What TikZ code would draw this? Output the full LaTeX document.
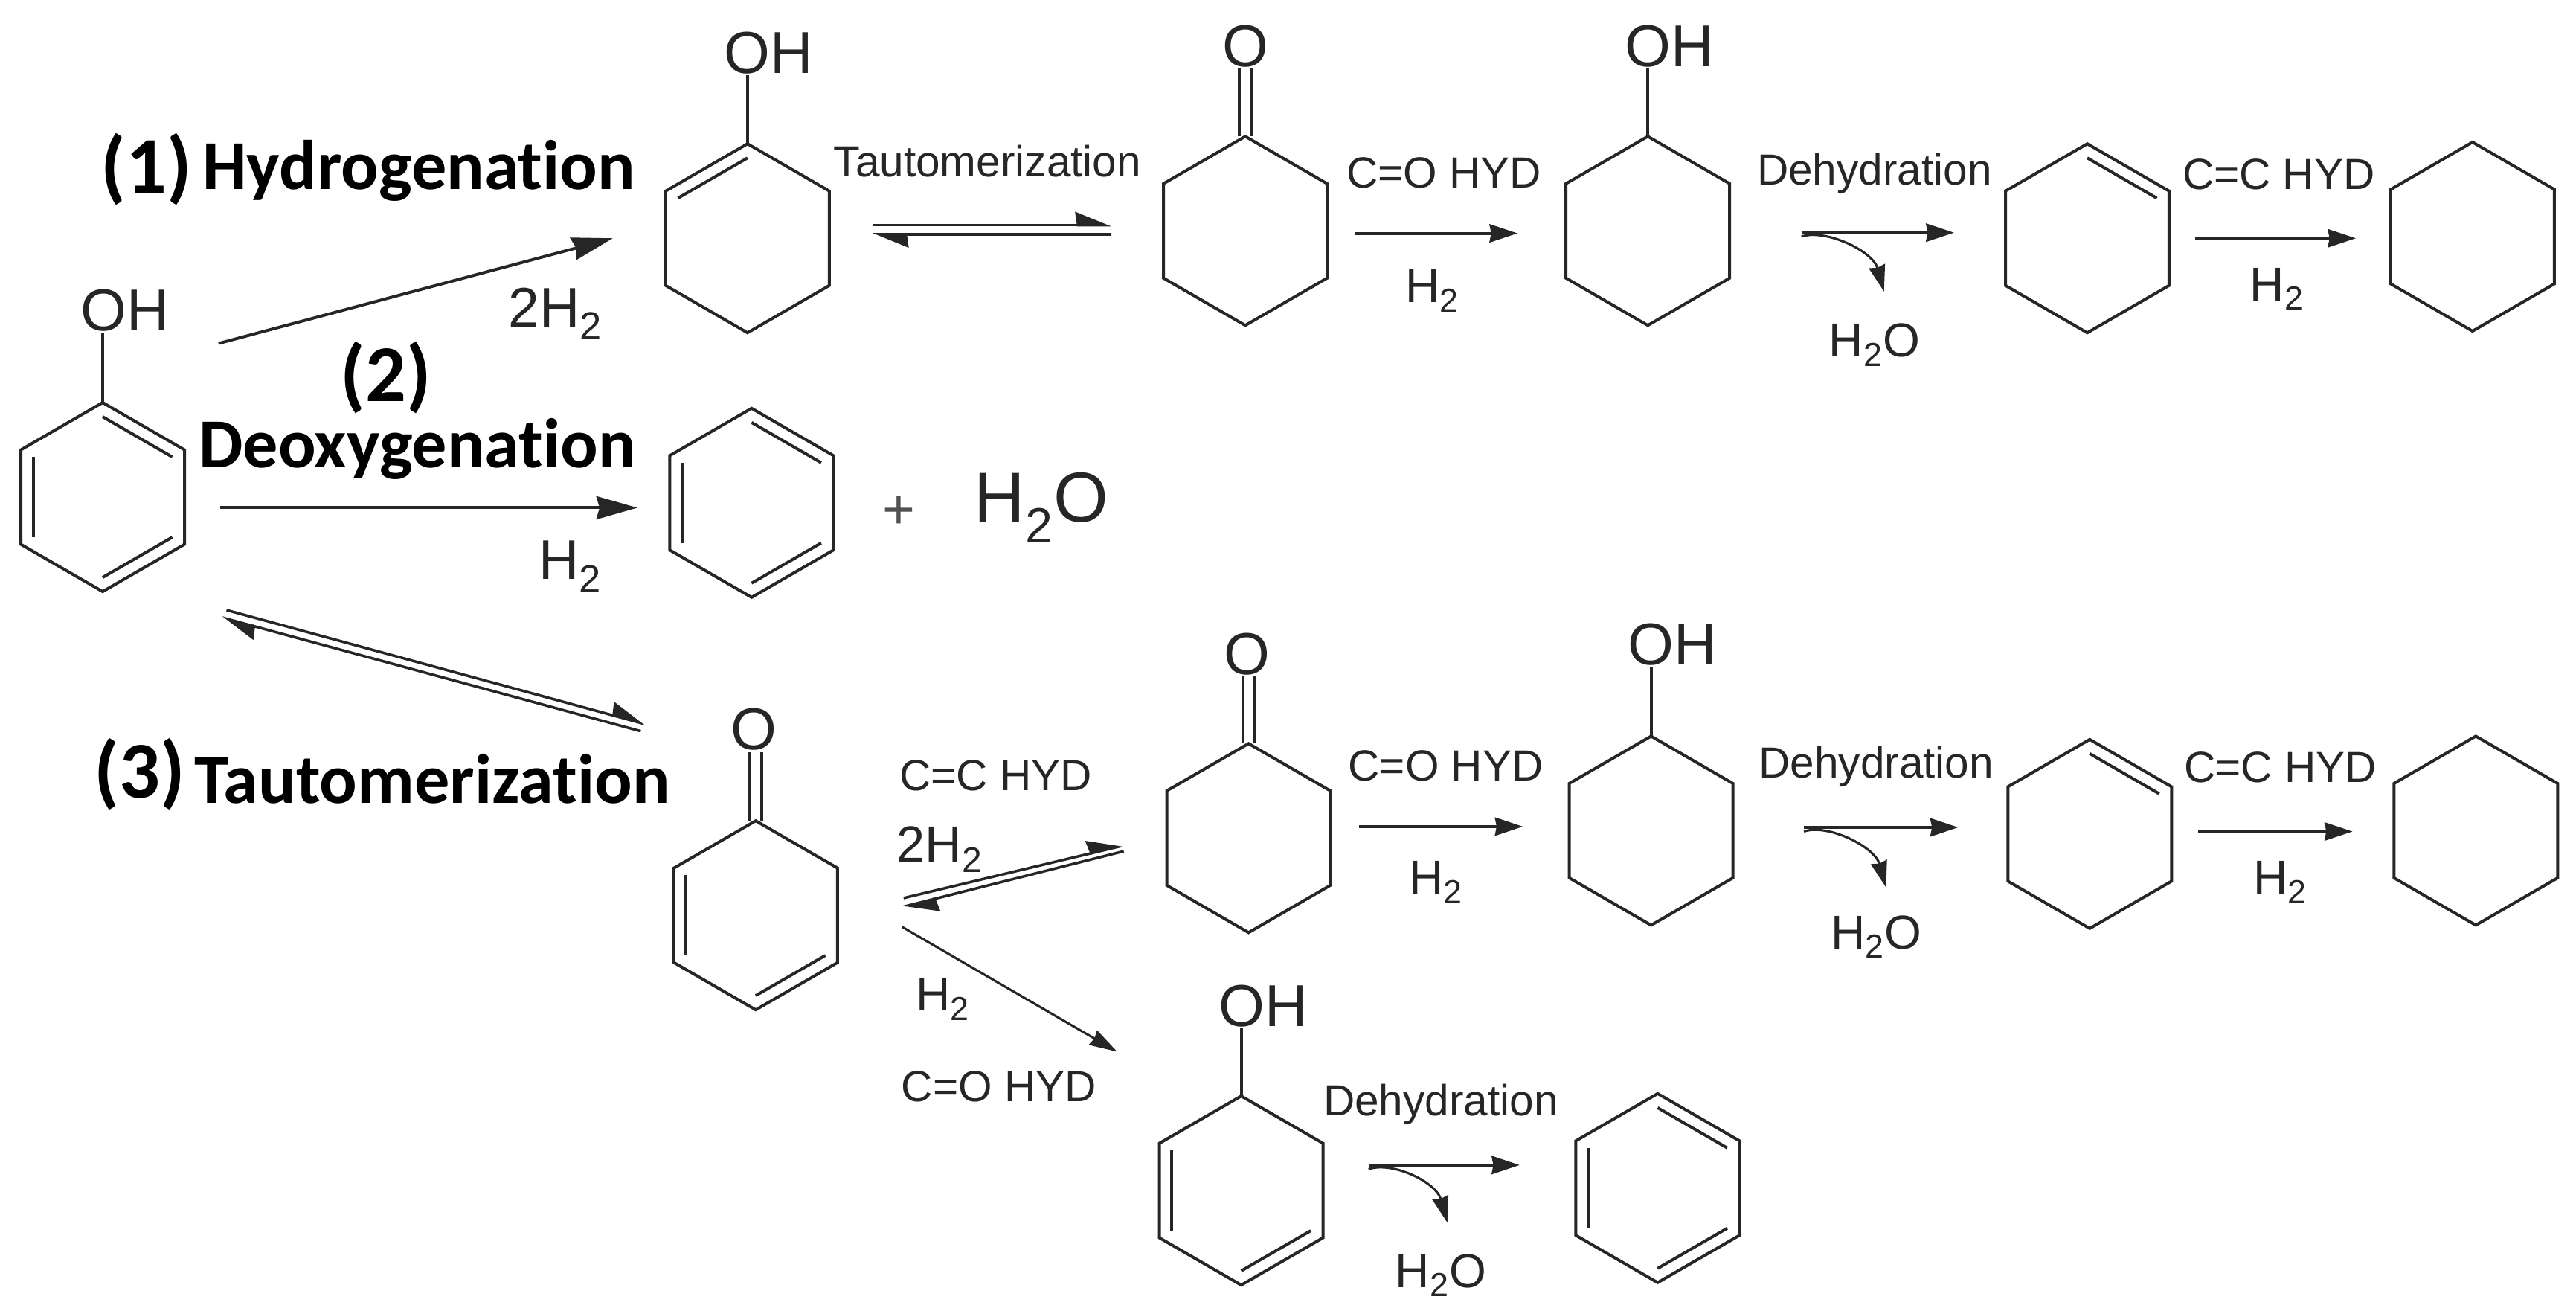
\documentclass[tikz,border=0pt]{standalone}
\usepackage{fontspec}
\setmainfont{Liberation Sans}
\newfontfamily\tagfont[Ligatures=NoCommon]{Carlito}
\usetikzlibrary{shapes.geometric,arrows.meta,calc}
\definecolor{ink}{gray}{0.15}
% inner line of a double bond, ring name and its two corners
\newcommand{\dbl}[3]{\draw ($(#1.center)!.85!(#1.corner #2)$) -- ($(#1.center)!.85!(#1.corner #3)$);}
% single and double bond from the top corner up to a label
\newcommand{\upbond}[2]{\draw (#1.corner 1) -- (#1.corner 1 |- #2.south);}
\newcommand{\upcarbonyl}[2]{
  \draw ([xshift=-3.5pt]#1.corner 1) -- ([xshift=-3.5pt]#1.corner 1 |- #2.south);
  \draw ([xshift=3.5pt]#1.corner 1) -- ([xshift=3.5pt]#1.corner 1 |- #2.south);}
\begin{document}
\begin{tikzpicture}[x=1pt,y=-1pt,line width=1.8pt,draw=ink,color=ink,
  ring/.style={regular polygon,regular polygon sides=6,shape border rotate=30,draw,
    minimum size=115pt,inner sep=0pt,outer sep=0pt},
  atom/.style={font=\fontsize{36}{40}\selectfont,inner sep=0pt},
  txt/.style={font=\fontsize{26.5}{30}\selectfont,inner sep=0pt},
  gas/.style={font=\fontsize{29}{32}\selectfont,inner sep=0pt},
  sum/.style={font=\fontsize{34}{38}\selectfont,inner sep=0pt},
  sumlow/.style={font=\fontsize{31}{36}\selectfont,inner sep=0pt},
  big/.style={font=\fontsize{43}{48}\selectfont,inner sep=0pt},
  tag/.style={font=\tagfont\bfseries\fontsize{42.7}{46}\selectfont,inner sep=0pt,text=black},
  num/.style={font=\tagfont\bfseries\fontsize{49}{52}\selectfont,inner sep=0pt,text=black},
  rxn/.style={-{Stealth[length=17pt,width=11pt,inset=1pt]}},
  rxnbig/.style={-{Stealth[length=25pt,width=14pt,inset=2pt]}},
  rxnthin/.style={line width=1.4pt,-{Stealth[length=17pt,width=10pt,inset=1pt]}},
  upper/.style={line width=1.6pt,-{Stealth[harpoon,length=20pt,width=16pt,inset=1pt]}},
  lower/.style={line width=1.6pt,-{Stealth[harpoon,length=20pt,width=16pt,inset=1pt]}},
  loss/.style={line width=1.4pt,-{Stealth[length=16pt,width=10pt,inset=1pt]}}]
\useasboundingbox (0,0) rectangle (1568,799.6);

% rings
\node [ring] (r0) at (62.5,302.5) {};
\node [ring] (r1) at (455,145) {};
\node [ring] (r2) at (758,140.5) {};
\node [ring] (r3) at (1003,140.5) {};
\node [ring] (r4) at (1270.5,145) {};
\node [ring] (r5) at (1505,144) {};
\node [ring] (r6) at (457.5,306) {};
\node [ring] (r7) at (460,557) {};
\node [ring] (r8) at (760,510) {};
\node [ring] (r9) at (1005,505.5) {};
\node [ring] (r10) at (1272,507.5) {};
\node [ring] (r11) at (1507,505.5) {};
\node [ring] (r12) at (755.5,724.5) {};
\node [ring] (r13) at (1009,723) {};

\dbl{r0}{1}{6} \dbl{r0}{2}{3} \dbl{r0}{4}{5}
\dbl{r1}{1}{2}
\dbl{r4}{1}{6}
\dbl{r6}{1}{6} \dbl{r6}{2}{3} \dbl{r6}{4}{5}
\dbl{r7}{2}{3} \dbl{r7}{4}{5}
\dbl{r10}{1}{6}
\dbl{r12}{2}{3} \dbl{r12}{4}{5}
\dbl{r13}{1}{6} \dbl{r13}{2}{3} \dbl{r13}{4}{5}

% atoms on the rings
\node [atom] (oh0) at (76,189) {OH};
\node [atom] (oh1) at (468,32) {OH};
\node [atom] (o2) at (758,28) {O};
\node [atom] (oh3) at (1016,28) {OH};
\node [atom] (o7) at (459,444) {O};
\node [atom] (o8) at (759,398) {O};
\node [atom] (oh9) at (1018,392) {OH};
\node [atom] (oh12) at (769,612) {OH};
\upbond{r0}{oh0} \upbond{r1}{oh1} \upbond{r3}{oh3} \upbond{r9}{oh9} \upbond{r12}{oh12}
\upcarbonyl{r2}{o2} \upcarbonyl{r7}{o7} \upcarbonyl{r8}{o8}

% titles
\node [num] (n1) at (89,103) {(1)};
\node [tag] (t1) at (255,104) {Hydrogenation};
\node [num] (n2) at (235,230) {(2)};
\node [tag] (t2) at (254,273) {Deoxygenation};
\node [num] (n3) at (85,471) {(3)};
\node [tag] (t3) at (263,474) {Tautomerization};

% top row
\draw [rxnbig] ($(r0.east)+(20.7,-93.5)$) -- ($(r1.west)+(-32.2,0)$);
\node [sum] (h1) at (338,191) {2H\textsubscript{2}};
\draw [upper] ($(r1.east)+(26.2,-8)$) -- ($(r2.west)+(-31.7,-3.5)$);
\draw [lower] ($(r2.west)+(-31.7,2.1)$) -- ($(r1.east)+(26.2,-2.4)$);
\node [txt] (a1) at (601,98) {Tautomerization};
\draw [rxn] ($(r2.east)+(17,1.5)$) -- ($(r3.west)+(-29.5,1.5)$);
\node [txt] (a2) at (879,105) {C=O HYD};
\node [gas] (h2) at (872,177) {H\textsubscript{2}};
\draw [rxn] ($(r3.east)+(44.2,1.1)$) -- ($(r4.west)+(-31.3,-3.4)$);
\draw [loss] ($(r3.east)+(43.7,3.5)$) .. controls +(14,-5) and +(-7,-25) .. ($(r4.west)+(-73.9,32.4)$);
\node [txt] (a3) at (1141,105.5) {Dehydration};
\node [gas] (h3) at (1141,210) {H\textsubscript{2}O};
\draw [rxn] ($(r4.east)+(15.7,0)$) -- ($(r5.west)+(-21.2,1)$);
\node [txt] (a4) at (1387,106) {C=C HYD};
\node [gas] (h4) at (1386,176) {H\textsubscript{2}};

% middle row
\draw [rxnbig] ($(r0.east)+(21.7,6.5)$) -- ($(r6.west)+(-19.7,3)$);
\node [sum] (h5) at (347,345) {H\textsubscript{2}};
\node [atom,font=\fontsize{34}{38}\selectfont,text=ink!80] (plus) at (547,312) {+};
\node [big] (w1) at (634,309) {H\textsubscript{2}O};

% tautomerization to the dienone
\draw [upper] ($(r0.corner 5)+(25.6,40)$) -- ($(r7.corner 2)+(-17.2,-87.5)$);
\draw [lower] ($(r7.corner 2)+(-20.2,-83.3)$) -- ($(r0.corner 5)+(22.7,44.5)$);

% bottom row
\draw [upper] ($(r7.east)+(40.2,-10.5)$) -- ($(r8.west)+(-26.2,4.5)$);
\draw [lower] ($(r8.west)+(-26.2,8)$) -- ($(r7.east)+(39.2,-5)$);
\node [txt] (a5) at (606,472) {C=C HYD};
\node [sumlow] (h6) at (572,517) {2H\textsubscript{2}};
\draw [rxnthin] ($(r7.east)+(39.2,7)$) -- ($(r12.corner 2)+(-25.7,-55.75)$);
\node [gas] (h7) at (574,608) {H\textsubscript{2}};
\node [txt] (a6) at (608,661) {C=O HYD};
\draw [rxn] ($(r8.east)+(17.2,-7)$) -- ($(r9.west)+(-28.2,-2.5)$);
\node [txt] (a7) at (880,466) {C=O HYD};
\node [gas] (h8) at (874,537) {H\textsubscript{2}};
\draw [rxn] ($(r9.east)+(43.2,-2)$) -- ($(r10.west)+(-30.2,-4)$);
\draw [loss] ($(r9.east)+(43.2,.5)$) .. controls +(14,-5) and +(-7,-25) .. ($(r10.west)+(-74.2,32.5)$);
\node [txt] (a8) at (1142,466.5) {Dehydration};
\node [gas] (h9) at (1142,570) {H\textsubscript{2}O};
\draw [rxn] ($(r10.east)+(16.2,-1.5)$) -- ($(r11.west)+(-25.2,.5)$);
\node [txt] (a9) at (1388,467) {C=C HYD};
\node [gas] (h10) at (1388,537) {H\textsubscript{2}};
\draw [rxn] ($(r12.east)+(27.7,-15.5)$) -- ($(r13.west)+(-34.2,-14)$);
\draw [loss] ($(r12.east)+(27.7,-13)$) .. controls +(14,-5) and +(-7,-25) .. ($(r13.west)+(-78.2,21)$);
\node [txt] (a10) at (877,672) {Dehydration};
\node [gas] (h11) at (877,776) {H\textsubscript{2}O};
\end{tikzpicture}
\end{document}
